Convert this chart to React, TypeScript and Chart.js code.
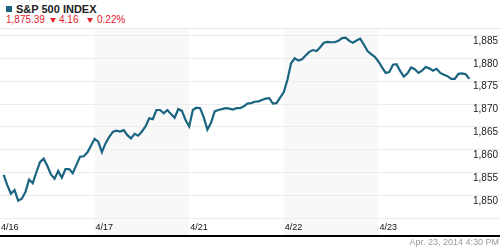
import React, { useEffect, useRef } from "react";
import { Chart, registerables } from "chart.js";

Chart.register(...registerables);

// ---- data ----
const dayLabels = ["4/16", "4/17", "4/21", "4/22", "4/23"];
const shadedDays = [1, 3];
const stepsPerDay = 26; // 15-minute bars per session
const yTicks = [1845, 1850, 1855, 1860, 1865, 1870, 1875, 1880, 1885];

const day1 = [1854.4, 1852.2, 1850.3, 1851.1, 1848.8, 1849.2, 1850.7, 1853.4, 1852.6, 1855.0, 1857.2, 1858.0, 1856.4, 1854.5, 1853.6, 1855.3, 1853.8, 1855.7, 1855.7, 1854.8, 1856.6, 1858.4, 1858.5, 1859.3, 1860.8, 1862.3];
const day2 = [1861.7, 1859.4, 1861.3, 1862.7, 1863.8, 1864.1, 1863.9, 1864.2, 1863.1, 1862.4, 1863.4, 1863.0, 1863.9, 1865.0, 1866.8, 1866.6, 1868.6, 1868.6, 1867.9, 1868.6, 1867.7, 1866.9, 1868.8, 1868.4, 1866.4, 1865.0];
const day3 = [1868.6, 1869.1, 1869.0, 1867.0, 1864.3, 1865.8, 1868.3, 1868.6, 1868.8, 1869.0, 1868.9, 1868.7, 1869.0, 1869.0, 1869.4, 1870.0, 1870.1, 1870.4, 1870.5, 1870.8, 1871.1, 1871.2, 1870.0, 1870.1, 1871.3, 1872.5];
const day4 = [1875.2, 1878.8, 1879.9, 1879.4, 1879.7, 1880.5, 1881.3, 1881.7, 1881.5, 1882.3, 1883.3, 1883.5, 1883.4, 1883.4, 1883.7, 1884.3, 1884.4, 1883.7, 1883.3, 1883.8, 1884.2, 1882.9, 1881.5, 1880.8, 1880.2, 1879.2];
const day5 = [1877.9, 1876.7, 1876.9, 1878.5, 1878.6, 1877.1, 1875.9, 1876.6, 1877.9, 1877.5, 1876.7, 1877.2, 1878.0, 1877.7, 1877.2, 1877.6, 1876.7, 1876.3, 1876.0, 1875.4, 1875.4, 1876.5, 1876.6, 1876.4, 1875.39];
const days = [day1, day2, day3, day4, day5];

const LINE = "#1a6482";
const RED = "#e8202a";

const backdrop = {
  id: "backdrop",
  beforeDraw(chart: any) {
    const { ctx, chartArea, scales } = chart;
    const xs = scales.x;
    const ys = scales.y;
    const rowBottom = chartArea.bottom + xs.height;
    ctx.save();
    ctx.fillStyle = "#f8f8f8";
    shadedDays.forEach((d) => {
      const x0 = xs.getPixelForValue(d * stepsPerDay);
      const x1 = xs.getPixelForValue((d + 1) * stepsPerDay);
      ctx.fillRect(x0, chartArea.top, x1 - x0, rowBottom - chartArea.top);
    });
    ctx.strokeStyle = "#ececec";
    ctx.lineWidth = 1;
    yTicks.forEach((v) => {
      const py = Math.round(ys.getPixelForValue(v)) + 0.5;
      ctx.beginPath();
      ctx.moveTo(0, py);
      ctx.lineTo(chart.width, py);
      ctx.stroke();
    });
    ctx.fillStyle = "#000";
    ctx.fillRect(0, rowBottom, chart.width, 2);
    ctx.restore();
  },
};

export default function App() {
  const ref = useRef<HTMLCanvasElement>(null);
  useEffect(() => {
    const points: { x: number; y: number }[] = [];
    days.forEach((vals, d) => {
      vals.forEach((v, k) => points.push({ x: d * stepsPerDay + k + 1, y: v }));
    });
    const chart = new Chart(ref.current!, {
      type: "line",
      data: {
        datasets: [
          {
            data: points,
            borderColor: LINE,
            borderWidth: 2.2,
            pointRadius: 0,
            tension: 0,
            fill: false,
          },
        ],
      },
      options: {
        animation: false,
        responsive: false,
        maintainAspectRatio: false,
        layout: { padding: { top: 0, left: 0, right: 0, bottom: 3 } },
        plugins: { legend: { display: false }, tooltip: { enabled: false } },
        scales: {
          x: {
            type: "linear",
            min: 0,
            max: dayLabels.length * stepsPerDay,
            grid: { display: false, drawTicks: false },
            border: { display: false },
            afterBuildTicks: (s: any) => {
              s.ticks = dayLabels.map((_, i) => ({ value: i * stepsPerDay }));
            },
            afterFit: (s: any) => {
              s.height = 17;
              s.paddingLeft = 0;
              s.paddingRight = 0;
            },
            ticks: {
              autoSkip: false,
              maxRotation: 0,
              minRotation: 0,
              align: "start",
              padding: 4,
              labelOffset: (c: any) => (c.index === 0 ? 4 : 1),
              color: "#111",
              font: { family: "'Liberation Sans', Arial, sans-serif", size: 9 },
              callback: (_v: any, i: number) => dayLabels[i],
            },
          },
          y: {
            position: "right",
            min: 1845,
            max: 1886.3,
            grid: { display: false, drawTicks: false },
            border: { display: false },
            afterBuildTicks: (s: any) => {
              s.ticks = yTicks.map((v) => ({ value: v }));
            },
            afterFit: (s: any) => {
              s.width = 27;
              s.paddingTop = 0;
              s.paddingBottom = 0;
            },
            ticks: {
              padding: 0,
              crossAlign: "near",
              labelOffset: 6,
              color: "#222",
              font: { family: "'Liberation Sans', Arial, sans-serif", size: 10 },
              callback: (v: any) => (v === yTicks[0] ? "" : Number(v).toLocaleString("en-US")),
            },
          },
        },
      },
      plugins: [backdrop],
    });
    return () => chart.destroy();
  }, []);

  const font = "'Liberation Sans', Arial, sans-serif";
  const tri = (left: number) => (
    <div
      style={{
        position: "absolute",
        left,
        top: 18,
        width: 0,
        height: 0,
        borderLeft: "3.5px solid transparent",
        borderRight: "3.5px solid transparent",
        borderTop: `5px solid ${RED}`,
      }}
    />
  );
  const red = (left: number, text: string) => (
    <div style={{ position: "absolute", left, top: 15, fontSize: 10, lineHeight: "10px", color: RED, whiteSpace: "nowrap" }}>{text}</div>
  );

  return (
    <div style={{ position: "absolute", left: 0, top: 0, width: 500, height: 250, overflow: "hidden", background: "#fff", fontFamily: font }}>
      <div style={{ position: "absolute", left: 6, top: 6, width: 6, height: 6, background: LINE }} />
      <div style={{ position: "absolute", left: 16, top: 4, fontSize: 11, lineHeight: "11px", fontWeight: "bold", color: "#222", whiteSpace: "nowrap" }}>S&amp;P 500 INDEX</div>
      {red(6, "1,875.39")}
      {tri(50)}
      {red(59, "4.16")}
      {tri(87)}
      {red(97, "0.22%")}
      <div style={{ position: "absolute", left: 0, top: 28, width: 500, height: 1, background: "#e8e8e8" }} />
      <canvas ref={ref} width={500} height={209} style={{ position: "absolute", left: 0, top: 29, width: 500, height: 209 }} />
      <div style={{ position: "absolute", right: 1, top: 238, fontSize: 9, lineHeight: "9px", color: "#999", whiteSpace: "nowrap" }}>Apr. 23, 2014 4:30 PM</div>
    </div>
  );
}
